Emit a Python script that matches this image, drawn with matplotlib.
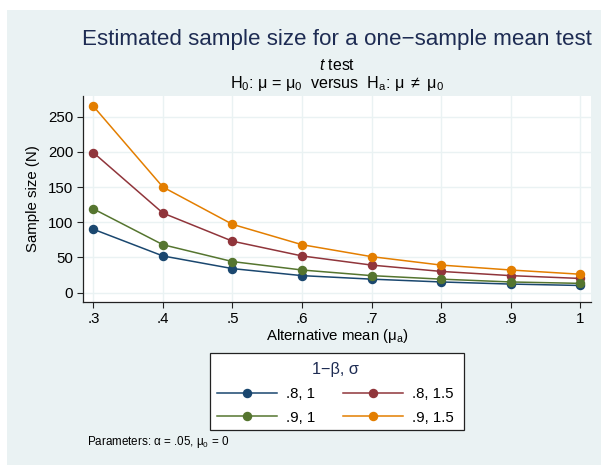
import matplotlib
matplotlib.use("Agg")
import matplotlib.pyplot as plt
from matplotlib.patches import Rectangle

plt.rcParams['font.family'] = ['Liberation Sans', 'DejaVu Sans']
plt.rcParams['mathtext.fontset'] = 'custom'
plt.rcParams['mathtext.rm'] = 'Liberation Sans'
plt.rcParams['mathtext.it'] = 'Liberation Sans:italic'
plt.rcParams['mathtext.default'] = 'regular'

# ---- data ----
alt_mean = [0.3, 0.4, 0.5, 0.6, 0.7, 0.8, 0.9, 1.0]
n_p8_s1 = [90, 52, 34, 24, 19, 15, 12, 10]
n_p8_s15 = [199, 113, 73, 52, 39, 30, 24, 20]
n_p9_s1 = [119, 68, 44, 32, 24, 19, 15, 13]
n_p9_s15 = [265, 150, 97, 68, 51, 39, 32, 26]
series_labels = ['.8, 1', '.8, 1.5', '.9, 1', '.9, 1.5']
x_ticks = [0.3, 0.4, 0.5, 0.6, 0.7, 0.8, 0.9, 1.0]
x_ticklabels = ['.3', '.4', '.5', '.6', '.7', '.8', '.9', '1']
y_ticks = [0, 50, 100, 150, 200, 250]

colors = ['#1a476f', '#90353b', '#55752f', '#e37e00']
bg = '#eaf2f3'
W, H = 601, 465

fig = plt.figure(figsize=(W / 100, H / 100), dpi=100, facecolor='white')
fig.patches.append(Rectangle((7 / W, 0), 1 - 7 / W, 1 - 10 / H, transform=fig.transFigure,
                             facecolor=bg, edgecolor='none', zorder=-10))

L, R, T, B = 83.3, 590.7, 96, 302
ax = fig.add_axes([L / W, 1 - B / H, (R - L) / W, (B - T) / H])
ax.set_facecolor('white')

handles = []
for ys, c, lab in zip([n_p8_s1, n_p8_s15, n_p9_s1, n_p9_s15], colors, series_labels):
    h, = ax.plot(alt_mean, ys, color=c, lw=1.1, marker='o', ms=5.8, mec=c, mfc=c, label=lab, zorder=3)
    handles.append(h)

ax.set_xlim(0.2856, 1.01495)
ax.set_ylim(-13.5, 279.5)
ax.set_xticks(x_ticks)
ax.set_xticklabels(x_ticklabels)
ax.set_yticks(y_ticks)
ax.grid(True, color=bg, lw=1.0, zorder=0)
for s in ['top', 'right']:
    ax.spines[s].set_visible(False)
for s in ['left', 'bottom']:
    ax.spines[s].set_color('#222222')
    ax.spines[s].set_linewidth(0.9)
ax.tick_params(axis='both', direction='out', length=4, width=0.8, color='#222222',
               labelsize=10.8, labelcolor='black')
ax.tick_params(axis='x', pad=2.9)
ax.tick_params(axis='y', pad=3.3)

ax.set_ylabel('Sample size (N)', fontsize=10.8, va='center')
ax.yaxis.set_label_coords((32.5 - L) / (R - L), 0.5)
ax.set_xlabel(r'Alternative mean ($\mu_\mathrm{a}$)', fontsize=10.8, va='baseline')
ax.xaxis.set_label_coords((337 - L) / (R - L), (B - 340) / (B - T))

cx = (L + R) / 2 / W
fig.text(cx, 1 - 45 / H, 'Estimated sample size for a one\u2212sample mean test',
         ha='center', va='baseline', fontsize=16.1, color='#1e2c53')
fig.text(cx, 1 - 70.3 / H, r'$\it{t}$ test', ha='center', va='baseline', fontsize=11.4)
fig.text(cx, 1 - 87.7 / H,
         r'H$_0$: $\mu$ = $\mu_0$  versus  H$_\mathrm{a}$: $\mu$ $\neq$ $\mu_0$',
         ha='center', va='baseline', fontsize=11.6)

# legend frame drawn separately for exact Stata-like padding
fig.patches.append(Rectangle((210 / W, 1 - 430 / H), 254 / W, 77 / H, transform=fig.transFigure,
                             facecolor='white', edgecolor='#222222', lw=0.9, zorder=1))

# row-wise legend order: (.8,1) (.8,1.5) / (.9,1) (.9,1.5)
order = [0, 2, 1, 3]
leg = fig.legend([handles[i] for i in order], [series_labels[i] for i in order],
                 ncol=2, loc='upper center',
                 bbox_to_anchor=(335 / W, 1 - 362 / H), borderaxespad=0,
                 title='1\u2212\u03b2, \u03c3',
                 fontsize=10.8, title_fontsize=11.7, frameon=False,
                 handlelength=4.0, handletextpad=0.6, columnspacing=1.85,
                 labelspacing=0.65, borderpad=0.0, numpoints=1, markerscale=1.0)
leg.get_title().set_color('#1e2c53')

fig.text(87 / W, 1 - 442 / H, r'Parameters: $\alpha$ = .05, $\mu_0$ = 0',
         ha='left', va='center', fontsize=8.4)

fig.savefig('out.png', dpi=100, facecolor='white')
